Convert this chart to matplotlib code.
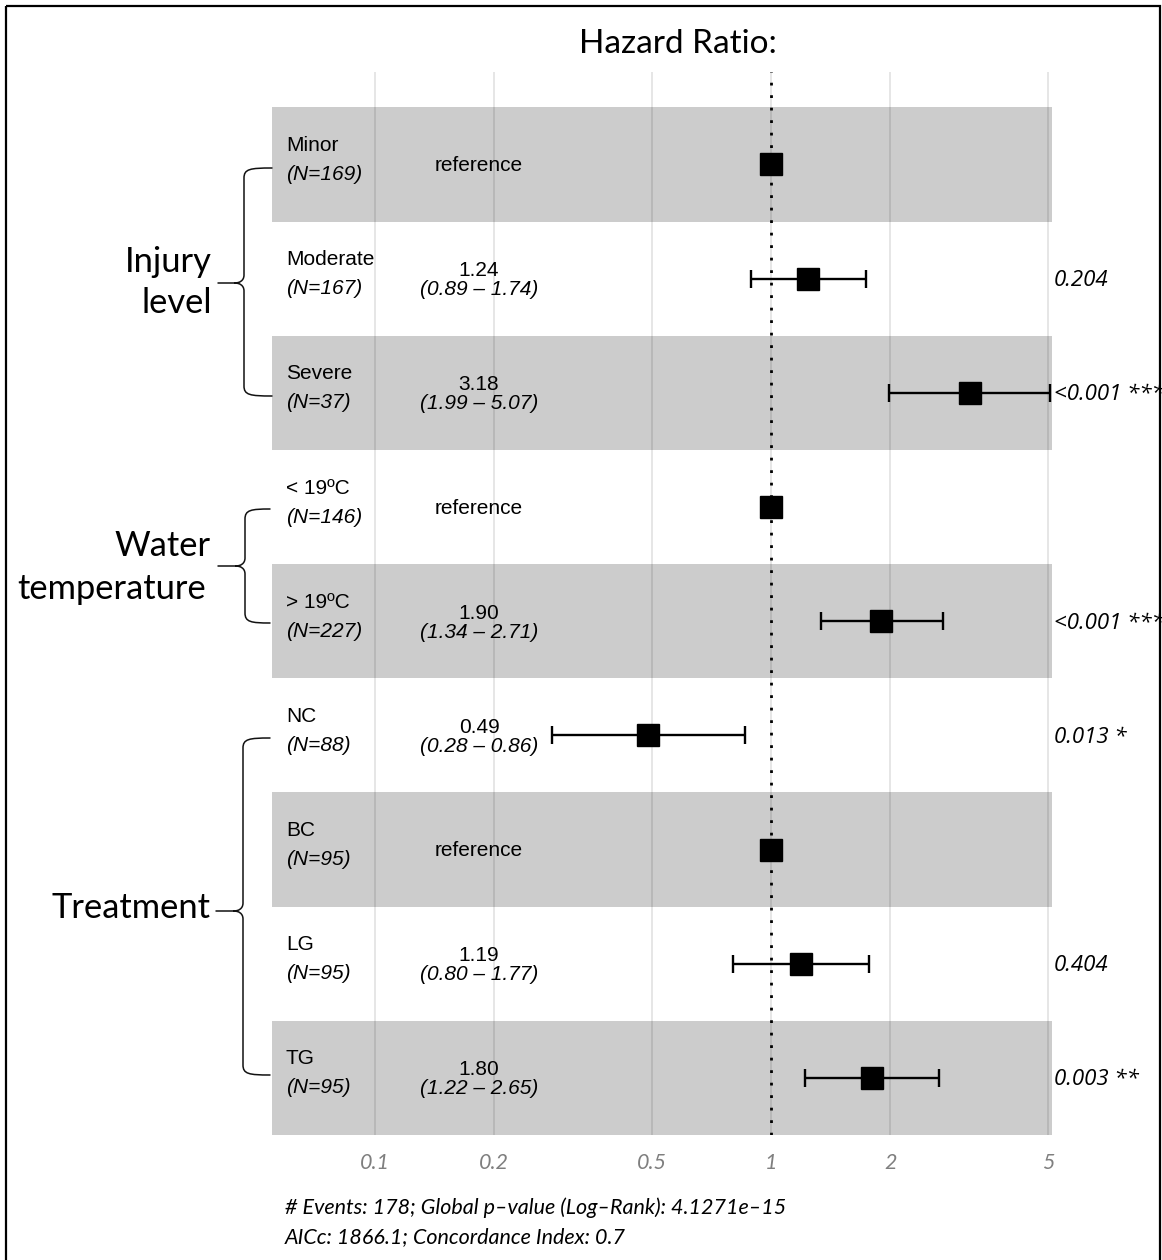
import numpy as np
import matplotlib
matplotlib.use("Agg")
import matplotlib.pyplot as plt
from matplotlib.path import Path
from matplotlib.patches import PathPatch, Rectangle
from matplotlib.transforms import blended_transform_factory

# ---------------- data ----------------
levels = ["Minor", "Moderate", "Severe", "< 19ºC", "> 19ºC", "NC", "BC", "LG", "TG"]
n_obs = [169, 167, 37, 146, 227, 88, 95, 95, 95]
hr = [1.0, 1.24, 3.18, 1.0, 1.90, 0.49, 1.0, 1.19, 1.80]
ci_low = [np.nan, 0.89, 1.99, np.nan, 1.34, 0.28, np.nan, 0.80, 1.22]
ci_high = [np.nan, 1.74, 5.07, np.nan, 2.71, 0.86, np.nan, 1.77, 2.65]
is_reference = [True, False, False, True, False, False, True, False, False]
p_text = ["", "0.204", "<0.001 ***", "", "<0.001 ***", "0.013 *", "", "0.404", "0.003 **"]
group_lines = [["Injury", "level"], ["Water", "temperature"], ["Treatment"]]
group_rows = [(0, 2), (3, 4), (5, 8)]
tick_values = [0.1, 0.2, 0.5, 1, 2, 5]
tick_labels = ["0.1", "0.2", "0.5", "1", "2", "5"]
footer = ["# Events: 178; Global p\u2013value (Log\u2013Rank): 4.1271e\u201315",
          "AICc: 1866.1; Concordance Index: 0.7"]

W, H = 1162, 1260
fig = plt.figure(figsize=(W / 100, H / 100), dpi=100)
fig.patch.set_facecolor("white")

# main forest axes
ax_l, ax_r, ax_t, ax_b = 272, 1052, 72, 1135
ax = fig.add_axes([ax_l / W, 1 - ax_b / H, (ax_r - ax_l) / W, (ax_b - ax_t) / H])
ax.set_xscale("log")
ax.set_xlim(0.055, 5.12)
ax.set_ylim(8.5, -0.81)
for s in ax.spines.values():
    s.set_visible(False)
ax.set_yticks([])
ax.set_xticks(tick_values)
ax.set_xticks([], minor=True)
ax.set_xticklabels(tick_labels, fontfamily="Lato", fontstyle="italic",
                   fontsize=15.5, color="#7f7f7f")
ax.tick_params(axis="x", length=0, pad=13)
ax.grid(axis="x", color="#e2e2e2", lw=1.2)
ax.set_axisbelow(True)

rows = np.arange(len(levels))
for i in rows:
    if i % 2 == 0:
        ax.axhspan(i - 0.5, i + 0.5, facecolor=(0, 0, 0, 0.2), edgecolor="none", zorder=1)

ax.axvline(1, color="black", ls=(0, (1, 3.5)), lw=2.0, zorder=3)

hr_a = np.array(hr)
lo_a = np.array(ci_low)
hi_a = np.array(ci_high)
ci_mask = ~np.isnan(lo_a)
ax.errorbar(hr_a[ci_mask], rows[ci_mask],
            xerr=[hr_a[ci_mask] - lo_a[ci_mask], hi_a[ci_mask] - hr_a[ci_mask]],
            fmt="none", ecolor="black", elinewidth=1.7, capsize=6.5, capthick=1.7,
            zorder=4, clip_on=False)
ax.plot(hr_a, rows, ls="none", marker="s", ms=16.5, mfc="black", mec="black", zorder=5)

tr = blended_transform_factory(ax.transAxes, ax.transData)
rowpx = 114.1
f_name = (286 - ax_l) / (ax_r - ax_l)
f_est = (479 - ax_l) / (ax_r - ax_l)
f_p = (1054 - ax_l) / (ax_r - ax_l)
for i in rows:
    ax.text(f_name, i - 19 / rowpx, levels[i], transform=tr, ha="left", va="center",
            fontfamily="Liberation Sans", fontsize=15, zorder=6)
    ax.text(f_name, i + 10 / rowpx, f"(N={n_obs[i]})", transform=tr, ha="left", va="center",
            fontfamily="Liberation Sans", fontstyle="italic", fontsize=15, zorder=6)
    if is_reference[i]:
        ax.text(f_est, i + 1 / rowpx, "reference", transform=tr, ha="center", va="center",
                fontfamily="Liberation Sans", fontsize=15, zorder=6)
    else:
        ax.text(f_est, i - 8 / rowpx, f"{hr[i]:.2f}", transform=tr, ha="center", va="center",
                fontfamily="Liberation Sans", fontsize=15, zorder=6)
        ax.text(f_est, i + 11 / rowpx, f"({ci_low[i]:.2f} \u2013 {ci_high[i]:.2f})",
                transform=tr, ha="center", va="center",
                fontfamily="Liberation Sans", fontstyle="italic", fontsize=15, zorder=6)
    if p_text[i]:
        ax.text(f_p, i + 2 / rowpx, p_text[i], transform=tr, ha="left", va="center",
                fontfamily="Open Sans", fontstyle="italic", fontsize=16, clip_on=False,
                zorder=6)

# overlay axes in pixel coordinates for braces, group labels, border
ov = fig.add_axes([0, 0, 1, 1], zorder=10)
ov.set_xlim(0, W)
ov.set_ylim(H, 0)
ov.axis("off")
ov.patch.set_alpha(0)


def brace(xe, xs, xt, yt, yb, ym, r=10):
    verts = [(xe, yt), (xs + 6, yt), (xs, yt + 1), (xs, yt + r),
             (xs, ym - 8),
             (xs, ym - 2), (xs - 5, ym), (xs - 9, ym),
             (xt, ym),
             (xs - 9, ym),
             (xs - 5, ym), (xs, ym + 2), (xs, ym + 8),
             (xs, yb - r),
             (xs, yb - 1), (xs + 6, yb), (xe, yb)]
    codes = [Path.MOVETO, Path.CURVE4, Path.CURVE4, Path.CURVE4,
             Path.LINETO,
             Path.CURVE4, Path.CURVE4, Path.CURVE4,
             Path.LINETO,
             Path.MOVETO,
             Path.CURVE4, Path.CURVE4, Path.CURVE4,
             Path.LINETO,
             Path.CURVE4, Path.CURVE4, Path.CURVE4]
    ov.add_patch(PathPatch(Path(verts, codes), facecolor="none", edgecolor="#111111",
                           lw=1.1, capstyle="round", joinstyle="round"))


brace_specs = [(272, 244, 218, 168, 396, 283),
               (270, 245, 218, 509, 623, 566),
               (270, 243, 216, 738, 1075, 911)]
for (xe, xs, xt, yt, yb, ym) in brace_specs:
    brace(xe, xs, xt, yt, yb, ym)

label_y = [[262, 303], [546, 589], [908]]
label_x = [[212, 212], [211, 206], [210]]
for lines, ys, xs_ in zip(group_lines, label_y, label_x):
    for txt, yy, xx in zip(lines, ys, xs_):
        ov.text(xx, yy, txt, ha="right", va="center", fontfamily="Lato", fontsize=24.8)

ov.text(678, 44, "Hazard Ratio:", ha="center", va="center", fontfamily="Lato", fontsize=24)
ov.text(285, 1208, footer[0], ha="left", va="center", fontfamily="Lato",
        fontstyle="italic", fontsize=15.5)
ov.text(285, 1237, footer[1], ha="left", va="center", fontfamily="Lato",
        fontstyle="italic", fontsize=15.5)

ov.add_patch(Rectangle((6, 6), 1154, 1270, facecolor="none", edgecolor="black", lw=1.6,
                       clip_on=False))

fig.savefig("out.png", dpi=100, facecolor="white")
